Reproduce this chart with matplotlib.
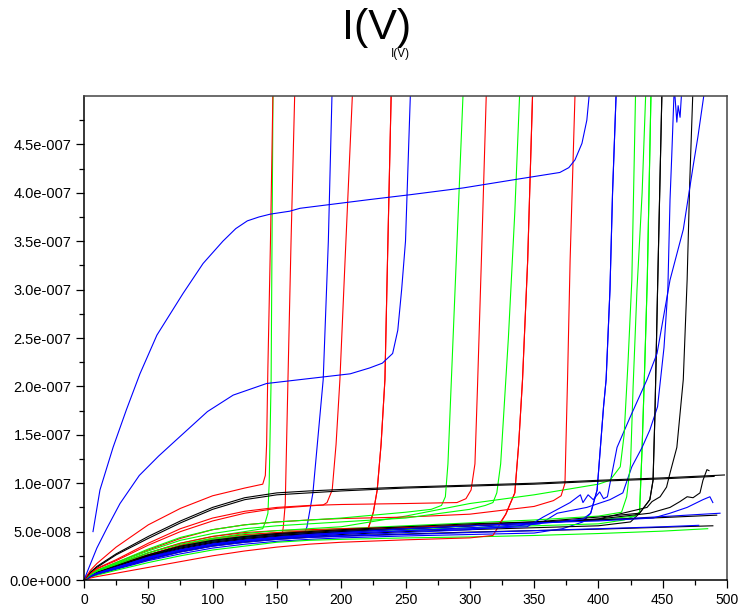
import matplotlib
matplotlib.use("Agg")
import matplotlib.pyplot as plt
from matplotlib.ticker import FixedLocator, MultipleLocator, FuncFormatter

plt.rcParams['font.family'] = ['Liberation Sans', 'DejaVu Sans']

# common voltage grid (V); each curve gives current (in 1e-8 A) on the first grid points,
# then its own tail points (breakdown part or end of the sweep)
V_GRID = [0, 5, 10, 25, 50, 75, 100, 125, 150, 175, 200, 250, 300, 350, 400, 450, 490]
I_UNIT = 1e-8

# two separate blue curves with their own sampling
blueA_v = [7, 12.4, 22.6, 33, 43.5, 56.7, 77, 92.6, 108, 118, 127, 136, 145, 160, 168, 222, 253.5,
           294.7, 336.7, 370, 377, 381.8, 387.2, 391, 393.5]
blueA_i = [5.0, 9.3, 13.7, 17.6, 21.3, 25.3, 29.6, 32.7, 35.0, 36.3, 37.1, 37.5, 37.8, 38.1, 38.4, 39.3, 39.8,
           40.5, 41.4, 42.1, 42.6, 43.4, 45.1, 47.5, 51]
blueB_v = [0, 3, 10, 18, 28, 43, 58, 72, 96, 116, 142, 168, 207, 222, 232, 240, 244, 247, 250, 252, 254]
blueB_i = [0, 1.0, 3.3, 5.4, 7.9, 10.8, 12.8, 14.5, 17.4, 19.1, 20.3, 20.7, 21.3, 21.9, 22.4, 23.4, 25.8,
           30, 35, 43, 51]

# red curves
red1 = ([0, 1.0, 1.7, 3.4, 5.7, 7.4, 8.7, 9.5],
        [139, 141, 142, 143, 145, 147], [9.9, 10.8, 14, 22, 35, 51])
red2 = ([0, 0.4, 0.7, 1.3, 2.3, 3.2, 3.8, 4.2, 4.5],
        [154, 155, 156.5, 158.6, 161, 164], [4.6, 5.5, 7.9, 20.7, 35, 51])
red3 = ([0, 0.65, 1.15, 2.0, 3.6, 5.0, 6.1, 6.9, 7.4, 7.65],
        [186, 189, 193, 196, 199, 203, 209], [7.75, 8.0, 9.3, 14, 20.7, 33, 51])
red4 = ([0, 0.45, 0.8, 1.5, 2.6, 3.6, 4.3, 4.7, 4.9, 5.05, 5.15],
        [221, 225, 228, 231, 234, 236, 239], [5.3, 7.0, 9.3, 14, 20.7, 33, 51])
red5 = ([0, 0.7, 1.2, 2.1, 3.8, 5.3, 6.4, 7.1, 7.5, 7.7, 7.8, 7.9],
        [290, 297, 301, 304, 306, 309, 313], [8.0, 8.4, 9.3, 12, 20, 33, 51])
red6 = ([0, 0.5, 0.9, 1.6, 2.8, 3.8, 4.5, 4.9, 5.1, 5.2, 5.3, 5.45, 5.6],
        [323, 328, 331, 335, 338, 341, 345, 349], [5.8, 6.8, 7.75, 9.0, 14, 20.7, 33, 51])
red7 = ([0, 0.6, 1.0, 1.8, 3.1, 4.3, 5.2, 5.7, 6.0, 6.2, 6.35, 6.5, 6.8, 7.6],
        [365, 371, 374, 376, 378, 382], [8.2, 8.7, 10, 20.7, 33, 51])
red_low = ([0, 0.2, 0.35, 0.7, 1.3, 1.9, 2.5, 3.0, 3.4, 3.7, 3.9, 4.15, 4.35],
           [318, 324, 328, 331, 335, 338, 341, 345, 349], [4.6, 5.9, 6.8, 7.75, 9.0, 14, 20.7, 33, 51])
red_band = ([0, 0.5, 0.85, 1.5, 2.6, 3.5, 4.1, 4.5, 4.75, 4.9, 5.0],
            [215, 221, 225, 228, 231, 234, 236, 239], [5.15, 5.3, 7.0, 9.3, 14, 20.7, 33, 51])

# green curves
green1 = ([0, 0.5, 0.9, 1.6, 2.8, 3.8, 4.5, 5.0],
          [139, 141, 143, 144, 145.5, 147], [5.3, 6.0, 6.9, 10, 20.7, 51])
green2 = ([0, 0.55, 1.0, 1.8, 3.2, 4.4, 5.2, 5.7, 6.0, 6.2, 6.4, 7.0],
          [270, 278, 281, 283, 287, 291, 295], [7.3, 7.7, 8.6, 12, 25, 38, 51])
green3 = ([0, 0.5, 0.95, 1.7, 3.0, 4.1, 4.8, 5.3, 5.6, 5.8, 6.0, 6.4, 7.3],
          [312, 318, 321, 324, 330, 335, 339], [7.7, 8.0, 9.0, 12, 25, 38, 51])
green4 = ([0, 0.5, 0.9, 1.6, 2.8, 3.7, 4.3, 4.8, 5.1, 5.3, 5.5, 6.6, 7.9, 8.8, 9.9],
          [409, 417, 420, 423, 426, 429], [10.3, 11.7, 15, 22.4, 31, 51])
green5 = ([0, 0.45, 0.8, 1.5, 2.6, 3.5, 4.2, 4.6, 4.9, 5.1, 5.3, 5.6, 5.9, 6.2, 6.6],
          [418, 422, 425, 427, 430, 434, 437], [7.0, 8.6, 12, 20, 30, 40, 51])
green6 = ([0, 0.4, 0.75, 1.4, 2.4, 3.3, 3.9, 4.3, 4.6, 4.8, 5.0, 5.3, 5.6, 5.9, 6.2],
          [428, 432, 434, 436, 438, 441], [6.6, 7.0, 13.7, 22, 31, 51])
green_end = ([0, 0.3, 0.5, 1.0, 1.8, 2.5, 3.1, 3.5, 3.9, 4.1, 4.2, 4.35, 4.45, 4.6, 4.8, 5.05],
             [485], [5.3])
green_band = ([0, 0.45, 0.8, 1.4, 2.5, 3.4, 4.0, 4.4, 4.7, 4.9, 5.0, 5.2, 5.4, 5.6, 5.8],
              [420, 428, 432, 434, 436, 438, 441], [6.2, 6.6, 7.0, 13.7, 22, 31, 51])

# blue curves
blue3 = ([0, 0.45, 0.8, 1.5, 2.6, 3.5, 4.1, 4.5, 4.8],
         [172, 173.4, 178, 186, 190, 193], [5.0, 5.5, 9, 20.7, 35, 51])
blue_w2 = ([0, 0.4, 0.7, 1.3, 2.3, 3.1, 3.7, 4.1, 4.4, 4.6, 4.8, 5.1, 5.4, 5.8],
           [370, 388, 394, 399, 404, 406, 409, 411, 414], [6.0, 6.3, 6.9, 9.3, 17.9, 20.7, 30, 40, 51])
blue_w1 = ([0, 0.4, 0.7, 1.3, 2.3, 3.1, 3.7, 4.1, 4.4, 4.6, 4.8, 5.1, 5.3],
           [344.5, 357, 378, 386, 388, 392, 396, 401, 404, 407, 414.5, 424.6, 437.8, 445.6, 455.7,
            466, 473.6, 477.4, 483],
           [5.5, 6.5, 8.0, 8.8, 8.0, 8.8, 8.3, 9.1, 8.4, 8.6, 13.7, 16.8, 20.7, 23.4, 31,
            36.2, 42.7, 45.8, 51])
blue_w3 = ([0, 0.4, 0.7, 1.2, 2.2, 3.0, 3.6, 4.0, 4.3, 4.5, 4.6, 4.9, 5.2],
           [354.6, 368, 391, 409, 419, 426, 434, 440, 446, 451, 454, 455.7, 457, 459, 461, 462, 463.5, 465],
           [5.8, 6.9, 7.5, 8.3, 9.0, 11.7, 13.7, 15.5, 17.9, 24, 30, 39.3, 43.7, 51, 47.3, 49, 47.8, 51])
blue5 = ([0, 0.4, 0.7, 1.3, 2.3, 3.1, 3.7, 4.1, 4.4, 4.7, 4.9, 5.3, 5.6, 5.9, 6.1],
         [442.5, 455.7, 469, 481.3, 486.7, 489], [6.4, 6.9, 7.5, 8.3, 8.6, 8.0])
blue_end = ([0, 0.4, 0.75, 1.4, 2.4, 3.3, 3.9, 4.3, 4.6, 4.8, 5.0, 5.3, 5.6, 5.9, 6.2, 6.55],
            [494.6], [6.9])
blue_band1 = ([0, 0.35, 0.6, 1.2, 2.1, 2.9, 3.5, 3.9, 4.2, 4.4, 4.5, 4.7, 4.9, 5.1, 5.3, 5.5],
              [478], [5.65])
blue_band2 = ([0, 0.3, 0.55, 1.1, 2.0, 2.7, 3.3, 3.7, 4.0, 4.2, 4.35, 4.55, 4.7, 4.85],
              [372, 388, 394, 399, 404, 406, 409, 411, 414], [5.3, 6.0, 6.9, 9.3, 17.9, 20.7, 30, 40, 51])

# black curves
black_top1 = ([0, 0.8, 1.4, 2.7, 4.5, 6.1, 7.5, 8.5, 9.0, 9.2, 9.35, 9.6, 9.8, 10.0, 10.3, 10.55, 10.8],
              [498], [10.85])
black_top2 = ([0, 0.8, 1.3, 2.6, 4.3, 5.9, 7.3, 8.3, 8.8, 9.0, 9.2, 9.5, 9.7, 9.9, 10.2, 10.45, 10.7],
              [], [])
black1 = ([0, 0.4, 0.75, 1.4, 2.5, 3.4, 4.0, 4.4, 4.7, 4.9, 5.1, 5.4, 5.7, 6.0, 6.5],
          [432, 440, 442.5, 444, 446, 449.5], [6.9, 8.3, 10.3, 17.3, 30, 51])
black2 = ([0, 0.4, 0.7, 1.35, 2.4, 3.2, 3.8, 4.2, 4.5, 4.7, 4.9, 5.3, 5.6, 5.9, 6.3],
          [437.8, 441.7, 448, 453, 455.7, 461, 466, 469, 471, 473.6],
          [7.5, 8.1, 8.6, 9.6, 11.05, 13.7, 20.7, 31, 41, 51])
black3 = ([0, 0.4, 0.75, 1.4, 2.5, 3.3, 3.9, 4.3, 4.6, 4.8, 5.0, 5.3, 5.6, 5.9, 6.3],
          [440, 455.7, 463.4, 469, 473.6, 479, 481.3, 484.4, 486],
          [6.9, 7.5, 8.1, 8.6, 8.5, 9.0, 10.3, 11.4, 11.3])
black_end1 = ([0, 0.45, 0.8, 1.5, 2.6, 3.5, 4.1, 4.5, 4.8, 5.0, 5.2, 5.5, 5.8, 6.0, 6.2, 6.45],
              [492], [6.7])
black_end2 = ([0, 0.35, 0.65, 1.2, 2.1, 2.9, 3.5, 3.9, 4.2, 4.4, 4.55, 4.75, 4.95, 5.1, 5.25, 5.45],
              [489], [5.6])
black_band = ([0, 0.4, 0.7, 1.3, 2.2, 3.0, 3.6, 4.0, 4.3, 4.5, 4.7, 5.0, 5.2, 5.4, 5.6],
              [425, 432, 440, 442.5, 444, 446, 449.5], [6.0, 6.9, 8.3, 10.3, 17.3, 30, 51])

BLUE, GREEN, RED, BLACK = '#0000ff', '#00ff00', '#ff0000', '#000000'
curves = [
    (BLUE, blue_band2), (GREEN, green_end), (RED, red_low), (BLACK, black_end2),
    (BLUE, blue_band1), (GREEN, green_band), (RED, red_band), (BLACK, black_band),
    (BLUE, blue3), (GREEN, green6), (RED, red2), (BLACK, black2),
    (BLUE, blue_w3), (GREEN, green5), (RED, red4), (BLACK, black1),
    (BLUE, blue_end), (GREEN, green1), (RED, red6), (BLACK, black_end1),
    (BLUE, blue_w1), (GREEN, green4), (RED, red7), (BLACK, black3),
    (BLUE, blue_w2), (GREEN, green3), (RED, red3), (BLACK, black_top2),
    (BLUE, blue5), (GREEN, green2), (RED, red5), (BLACK, black_top1),
    (RED, red1),
]

fig = plt.figure(figsize=(7.38, 6.08), dpi=100)
ax = fig.add_axes([84 / 738, 28 / 608, 643 / 738, 484 / 608])

for color, (grid_i, tail_v, tail_i) in curves:
    v = V_GRID[:len(grid_i)] + tail_v
    i = [val * I_UNIT for val in grid_i + tail_i]
    ax.plot(v, i, color=color, linewidth=0.8)

ax.plot(blueA_v, [val * I_UNIT for val in blueA_i], color=BLUE, linewidth=0.8)
ax.plot(blueB_v, [val * I_UNIT for val in blueB_i], color=BLUE, linewidth=0.8)

ax.set_xlim(0, 500)
ax.set_ylim(0, 5e-7)

ax.xaxis.set_major_locator(MultipleLocator(50))
ax.xaxis.set_minor_locator(MultipleLocator(25))
ax.yaxis.set_major_locator(FixedLocator([k * 0.5e-7 for k in range(10)]))
ax.yaxis.set_minor_locator(FixedLocator([0.25e-7 + k * 0.5e-7 for k in range(10)]))


def sci_label(val, pos):
    mant, exp = f"{val:.1e}".split('e')
    return f"{mant}e{exp[0]}{exp[1:].zfill(3)}"


ax.yaxis.set_major_formatter(FuncFormatter(sci_label))
ax.tick_params(which='major', direction='out', length=6, width=0.9, labelsize=10.5, pad=3)
ax.tick_params(axis='x', which='major', labelsize=10)
ax.tick_params(which='minor', direction='out', length=3.5, width=0.9)
ax.tick_params(top=False, right=False)

for side in ['left', 'bottom']:
    ax.spines[side].set_color('black')
    ax.spines[side].set_linewidth(1.1)
for side in ['top', 'right']:
    ax.spines[side].set_color('#444444')
    ax.spines[side].set_linewidth(1.1)

fig.text(342 / 738, 1 - 39 / 608, "I(V)", fontsize=31, ha='left', va='baseline')
fig.text(391 / 738, 1 - 57 / 608, "I(V)", fontsize=8.5, ha='left', va='baseline')

fig.savefig("out.png", dpi=100)
